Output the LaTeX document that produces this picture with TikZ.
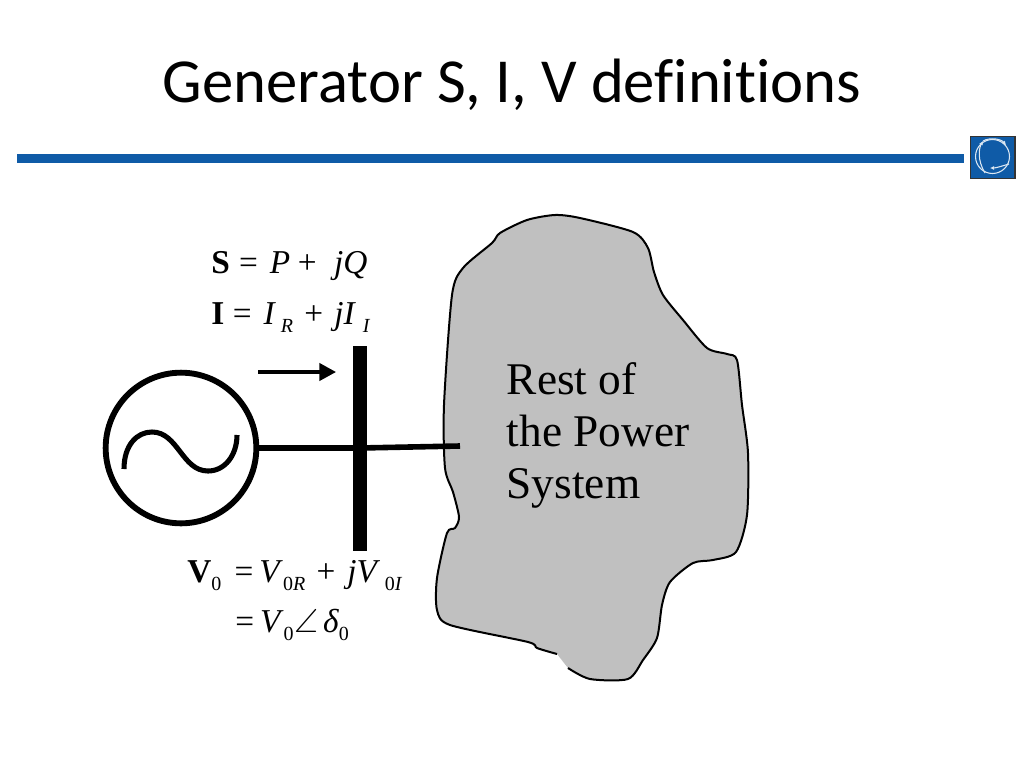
\documentclass[tikz,border=0pt]{standalone}
\usepackage{amssymb}
\usepackage{fontspec}
\setmainfont{Liberation Serif}
\newfontfamily\titlefont[Ligatures=NoCommon,Contextuals=NoAlternate]{Carlito}
\usepackage{tikz}
\usetikzlibrary{arrows.meta,positioning}
\definecolor{ruleblue}{HTML}{0F5BA7}
\definecolor{blobgray}{HTML}{C0C0C0}
\newcommand{\eqsub}[1]{\raisebox{-6pt}{\fontsize{15}{15}\selectfont #1}}
\tikzset{
  genbox/.style={draw,circle,line width=4.4pt,minimum size=113pt,inner sep=0pt},
  busbar/.style={fill=black,minimum width=10.5pt,minimum height=153.75pt,inner sep=0pt},
  eqlabel/.style={anchor=base west,inner sep=0pt,font=\fontsize{25}{25}\selectfont},
  wire/.style={line width=4.2pt},
  flowarrow/.style={-{Triangle[length=12.5pt,width=13pt]},line width=2.4pt},
  logoline/.style={white!85!ruleblue,line width=0.8pt},
}
\begin{document}
\begin{tikzpicture}[x=0.75pt,y=-0.75pt]
\useasboundingbox (0,0) rectangle (1024,768);
\node[anchor=base,inner sep=0pt,font=\fontsize{47}{47}\selectfont\titlefont] (title) at (512,102) {Generator S, I, V definitions};
% header rule and logo
\node[fill=ruleblue,minimum width=710pt,minimum height=6.75pt,inner sep=0pt,anchor=west] (rule) at (17,158.5) {};
\node[draw=black!80,line width=1pt,fill=ruleblue,minimum width=33.5pt,minimum height=31.5pt,inner sep=0pt] (logo) at (992.5,157.5) {};
\draw[logoline] (992.5,156.5) circle[radius=17];
\draw[logoline,-{Latex[length=3pt,width=3pt]}] (985,173) .. controls (977,160) and (979,148) .. (983,141);
\draw[logoline,-{Latex[length=3pt,width=3pt]}] (1009,164) .. controls (1002,166) and (996,168) .. (990,168);
\draw[logoline,{Latex[length=3pt,width=3pt]}-] (1006,145) .. controls (1001,139) and (990,137) .. (983,141);
% rest of the system
\fill[blobgray] plot[smooth,tension=0.45] coordinates {(568,668) (590,679) (628,679) (643,660) (657,638) (662,605) (670,582) (693,563) (713,560) (736,552) (747,515) (748,453) (742,405) (737,360) (727,354) (707,348) (683,320) (663,295) (654,272) (648,248) (633,232) (580,218) (555,215) (527,220) (500,233) (492,243) (463,268) (452,295) (444,405) (445,468) (453,492) (459,517) (455,528) (447,533) (437,578) (437,610) (450,625) (528,642) (537,648) (557,654)} -- cycle;
\draw[line width=1.5pt] plot[smooth,tension=0.45] coordinates {(568,668) (590,679) (628,679) (643,660) (657,638) (662,605) (670,582) (693,563) (713,560) (736,552) (747,515) (748,453) (742,405) (737,360) (727,354) (707,348) (683,320) (663,295) (654,272) (648,248) (633,232) (580,218) (555,215) (527,220) (500,233) (492,243) (463,268) (452,295) (444,405) (445,468) (453,492) (459,517) (455,528) (447,533) (437,578) (437,610) (450,625) (528,642) (537,648) (557,654)};
\node[anchor=base west,inner sep=0pt,align=left,font=\fontsize{34}{39}\selectfont] (rest) at (506.5,498) {Rest of\\the Power\\System};
% generator and bus
\node[genbox] (gen) at (181,448) {};
\node[busbar] (bus) at (360,448) {};
\coordinate (tie) at (460,446);
\draw[wire] (gen) -- (bus);
\draw[wire] (bus.center) -- (tie);
\draw[line width=3.8pt] (124,469) .. controls (124,445) and (137,432) .. (152,432) .. controls (178,432) and (182,471) .. (208,471) .. controls (225,471) and (237,455) .. (237,435);
\coordinate (flowa) at (258,372);
\coordinate (flowb) at (336,372);
\draw[flowarrow] (flowa) -- (flowb);
% equations
\node[eqlabel] (eqs) at (211,273) {\textbf{S}\hspace{7pt}=\hspace{9pt}\textit{P}\hspace{5.7pt}+\hspace{13pt}\textit{jQ}};
\node[eqlabel] (eqi) at (211,324) {\textbf{I}\hspace{6.5pt}=\hspace{9pt}\textit{I}\hspace{3.5pt}\eqsub{\textit{R}}\hspace{8.5pt}+\hspace{8.5pt}\textit{jI}\hspace{5pt}\eqsub{\textit{I}}};
\node[eqlabel] (eqv) at (187,582) {\textbf{V}\eqsub{0}\hspace{10pt}=\hspace{4.5pt}\textit{V}\eqsub{0\textit{R}}\hspace{8.5pt}+\hspace{9pt}\textit{jV}\hspace{3.5pt}\eqsub{0\textit{I}}};
\node[eqlabel] (eqd) at (235,632) {=\hspace{4.5pt}\textit{V}\eqsub{0}\hspace{1pt}$\angle$\hspace{3pt}\textit{δ}\eqsub{0}};
\end{tikzpicture}
\end{document}
